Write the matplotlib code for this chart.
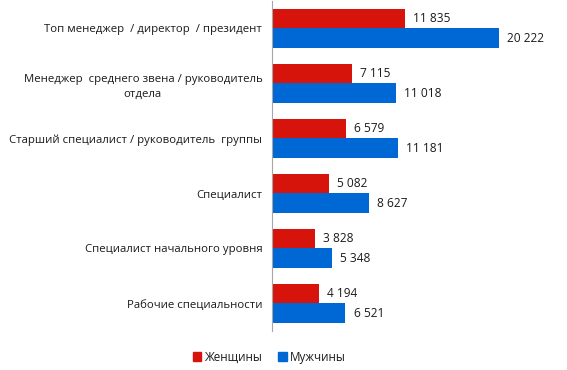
import matplotlib.pyplot as plt
import numpy as np
from matplotlib.patches import Patch

categories = [
    "Топ менеджер  / директор  / президент",
    "Менеджер  среднего звена / руководитель\nотдела",
    "Старший специалист / руководитель  группы",
    "Специалист",
    "Специалист начального уровня",
    "Рабочие специальности",
]
women = [11835, 7115, 6579, 5082, 3828, 4194]
men = [20222, 11018, 11181, 8627, 5348, 6521]
series_names = ["Женщины", "Мужчины"]

COLOR_WOMEN = "#d7140c"
COLOR_MEN = "#0068d4"
COLOR_INK = "#1a1a1a"

plt.rcParams["font.family"] = ["Open Sans", "DejaVu Sans"]


def fmt(v):
    return f"{v:,}".replace(",", " ")


fig = plt.figure(figsize=(5.67, 3.70), dpi=100)
ax = fig.add_axes([0.4797, 0.1054, 0.495, 0.892])

n = len(categories)
y = np.arange(n)
h = 0.355

ax.barh(y - h / 2, women, height=h, color=COLOR_WOMEN)
ax.barh(y + h / 2, men, height=h, color=COLOR_MEN)

for yi, w, m in zip(y, women, men):
    ax.text(w + 750, yi - h / 2, fmt(w), va="center", ha="left", fontsize=8.6, color=COLOR_INK)
    ax.text(m + 750, yi + h / 2, fmt(m), va="center", ha="left", fontsize=8.6, color=COLOR_INK)

ax.set_xlim(0, 25000)
ax.set_ylim(n - 0.5, -0.5)
ax.set_yticks(y)
ax.set_yticklabels(categories, fontsize=8.2, color=COLOR_INK, multialignment="center",
                   linespacing=1.55)
ax.set_xticks([])
ax.tick_params(axis="y", length=0, pad=7)
for side in ("top", "right", "bottom"):
    ax.spines[side].set_visible(False)
ax.spines["left"].set_color("#a6a6a6")
ax.spines["left"].set_linewidth(0.8)

handles = [Patch(color=COLOR_WOMEN), Patch(color=COLOR_MEN)]
fig.legend(handles, series_names, loc="center", bbox_to_anchor=(0.475, 0.035), ncol=2,
           frameon=False, fontsize=8.4, handlelength=0.7, handleheight=0.7,
           handletextpad=0.3, columnspacing=1.4, labelcolor=COLOR_INK)

fig.savefig("out.png", dpi=100, facecolor="white")
